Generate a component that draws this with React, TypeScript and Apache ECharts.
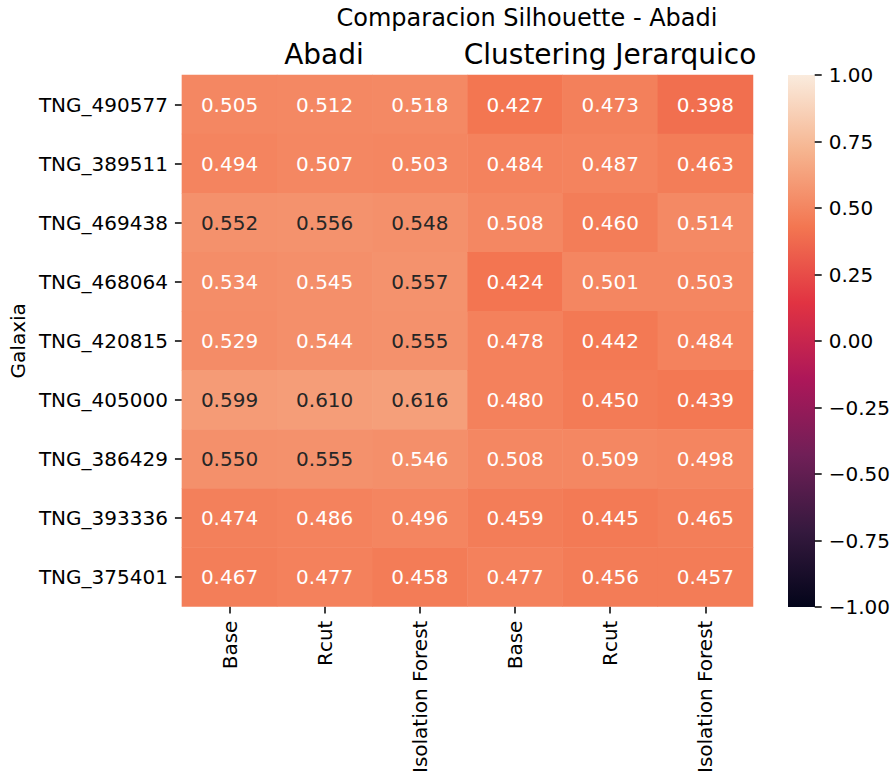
import React, { useEffect, useRef } from "react";
import * as echarts from "echarts";

// Silhouette scores per galaxy (rows) for each method (columns)
const galaxias = [
  "TNG_490577",
  "TNG_389511",
  "TNG_469438",
  "TNG_468064",
  "TNG_420815",
  "TNG_405000",
  "TNG_386429",
  "TNG_393336",
  "TNG_375401",
];

const metodos = ["Base", "Rcut", "Isolation Forest", "Base", "Rcut", "Isolation Forest"];

// Abadi
const abadiBase = [0.505, 0.494, 0.552, 0.534, 0.529, 0.599, 0.55, 0.474, 0.467];
const abadiRcut = [0.512, 0.507, 0.556, 0.545, 0.544, 0.61, 0.555, 0.486, 0.477];
const abadiIsolation = [0.518, 0.503, 0.548, 0.557, 0.555, 0.616, 0.546, 0.496, 0.458];
// Clustering Jerarquico
const jerBase = [0.427, 0.484, 0.508, 0.424, 0.478, 0.48, 0.508, 0.459, 0.477];
const jerRcut = [0.473, 0.487, 0.46, 0.501, 0.442, 0.45, 0.509, 0.445, 0.456];
const jerIsolation = [0.398, 0.463, 0.514, 0.503, 0.484, 0.439, 0.498, 0.465, 0.457];

const columnas = [abadiBase, abadiRcut, abadiIsolation, jerBase, jerRcut, jerIsolation];

const grupos = ["Abadi", "Clustering Jerarquico"];
const titulo = "Comparacion Silhouette - Abadi";
const ejeY = "Galaxia";

const escalaMin = -1;
const escalaMax = 1;
const escalaPaso = 0.25;

// "rocket" colormap stops, evenly spaced from min to max
const rocket = [
  "#03051a",
  "#35193e",
  "#701f57",
  "#ad1759",
  "#e13342",
  "#f37651",
  "#f6b48f",
  "#faebdd",
];

const FONT = "DejaVu Sans";

export default function App() {
  const ref = useRef<HTMLDivElement>(null);

  useEffect(() => {
    if (!ref.current) return;
    const chart = echarts.init(ref.current, null, { renderer: "svg" });

    const gridLeft = 181;
    const gridTop = 75;
    const gridWidth = 572;
    const gridHeight = 532;
    const colW = gridWidth / metodos.length;
    const barLeft = 788;
    const barWidth = 27;

    const data: any[] = [];
    columnas.forEach((col, xi) => {
      col.forEach((v, yi) => {
        data.push({
          value: [xi, yi, v],
          label: { color: v >= 0.547 ? "#262626" : "#ffffff" },
        });
      });
    });

    const tickStyle = { show: true, length: 7, lineStyle: { color: "#000", width: 1.5 } };
    const labelBase = { margin: 14, fontSize: 20, fontFamily: FONT, color: "#000" };

    // colour bar gradient, bottom (min) to top (max)
    const gradient = new echarts.graphic.LinearGradient(
      0,
      1,
      0,
      0,
      rocket.map((c, i) => ({ offset: i / (rocket.length - 1), color: c }))
    );

    const option: any = {
      animation: false,
      backgroundColor: "#ffffff",
      textStyle: { fontFamily: FONT },
      grid: [
        { left: gridLeft, top: gridTop, width: gridWidth, height: gridHeight },
        { left: barLeft, top: gridTop, width: barWidth, height: gridHeight },
      ],
      xAxis: [
        {
          type: "category",
          gridIndex: 0,
          data: metodos,
          position: "bottom",
          axisLine: { show: false },
          axisTick: { ...tickStyle, alignWithLabel: true },
          axisLabel: { ...labelBase, rotate: 90, interval: 0 },
          splitLine: { show: false },
        },
        { type: "value", gridIndex: 1, min: 0, max: 1, show: false },
      ],
      yAxis: [
        {
          type: "category",
          gridIndex: 0,
          data: galaxias,
          inverse: true,
          axisLine: { show: false },
          axisTick: { ...tickStyle, alignWithLabel: true },
          axisLabel: { ...labelBase, interval: 0 },
          name: ejeY,
          nameLocation: "middle",
          nameRotate: 90,
          nameGap: 152,
          nameTextStyle: { fontSize: 20, fontFamily: FONT, color: "#000" },
          splitLine: { show: false },
        },
        {
          type: "value",
          gridIndex: 1,
          min: escalaMin,
          max: escalaMax,
          interval: escalaPaso,
          position: "right",
          z: 10,
          axisLine: { show: false, onZero: false },
          axisTick: { ...tickStyle, inside: false },
          axisLabel: {
            ...labelBase,
            formatter: (v: number) => v.toFixed(2).replace("-", "\u2212"),
          },
          splitLine: { show: false },
        },
      ],
      visualMap: {
        type: "continuous",
        min: escalaMin,
        max: escalaMax,
        seriesIndex: 0,
        show: false,
        inRange: { color: rocket },
      },
      series: [
        {
          type: "heatmap",
          xAxisIndex: 0,
          yAxisIndex: 0,
          data,
          label: {
            show: true,
            fontSize: 20,
            fontFamily: FONT,
            formatter: (p: any) => p.value[2].toFixed(3),
          },
          itemStyle: { borderWidth: 0 },
          emphasis: { disabled: true },
        },
      ],
      graphic: [
        {
          type: "rect",
          z: -1,
          shape: { x: barLeft, y: gridTop, width: barWidth, height: gridHeight },
          style: { fill: gradient },
        },
        {
          type: "text",
          x: 527,
          y: 18,
          style: {
            text: titulo,
            fontSize: 24,
            fontFamily: FONT,
            fill: "#000",
            align: "center",
            verticalAlign: "middle",
          },
        },
        ...grupos.map((g, i) => ({
          type: "text",
          x: gridLeft + colW * (1.5 + i * 3),
          y: 54,
          style: {
            text: g,
            fontSize: 28,
            fontFamily: FONT,
            fill: "#000",
            align: "center",
            verticalAlign: "middle",
          },
        })),
      ],
    };

    chart.setOption(option);
    return () => chart.dispose();
  }, []);

  return (
    <div
      ref={ref}
      style={{ position: "fixed", left: 0, top: 0, width: 893, height: 776 }}
    />
  );
}
